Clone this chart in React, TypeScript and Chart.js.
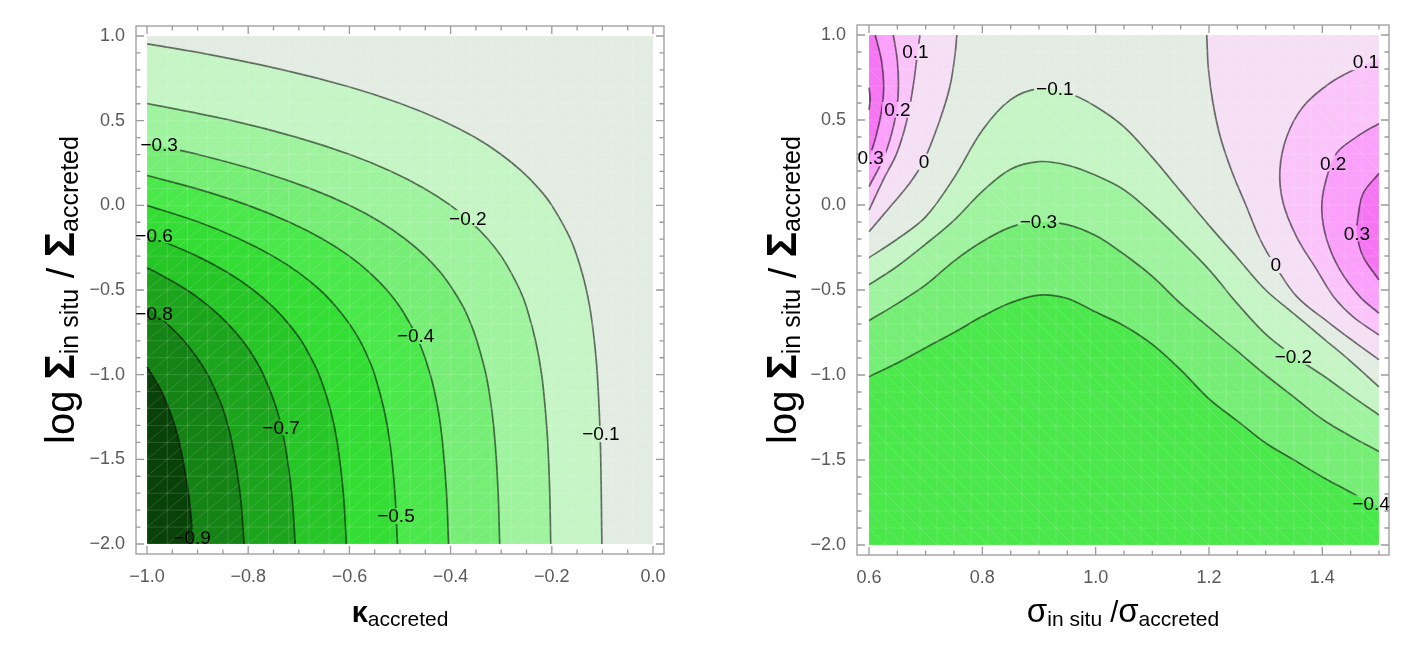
import { useEffect, useRef } from 'react'
import { Chart, registerables } from 'chart.js'

Chart.register(...registerables)

type Pt = [number, number]
type Label = [number, number, number] // level, x, y
type Run = { t: string; size: number; bold?: boolean; sub?: boolean }

// ---------- left panel: kappa_accreted vs log Sigma_insitu/Sigma_accreted ----------
const kappaLevels = [-0.1, -0.2, -0.3, -0.4, -0.5, -0.6, -0.7, -0.8, -0.9]

const kappaLine1: Pt[] = [[-1, 0.954], [-0.894, 0.9], [-0.731, 0.8], [-0.601, 0.7], [-0.498, 0.6], [-0.416, 0.5], [-0.351, 0.4], [-0.3, 0.3], [-0.259, 0.2], [-0.226, 0.1], [-0.2, 0.0], [-0.163, -0.2], [-0.14, -0.4], [-0.125, -0.6], [-0.116, -0.8], [-0.11, -1.0], [-0.104, -1.4], [-0.101, -2.0]]
const kappaLine2: Pt[] = [[-1, 0.602], [-0.832, 0.5], [-0.702, 0.4], [-0.599, 0.3], [-0.517, 0.2], [-0.452, 0.1], [-0.4, 0.0], [-0.359, -0.1], [-0.326, -0.2], [-0.3, -0.3], [-0.28, -0.4], [-0.263, -0.5], [-0.25, -0.6], [-0.232, -0.8], [-0.22, -1.0], [-0.213, -1.2], [-0.208, -1.4], [-0.204, -1.7], [-0.202, -2.0]]
const kappaLine3: Pt[] = [[-1, 0.368], [-0.899, 0.3], [-0.776, 0.2], [-0.678, 0.1], [-0.6, 0.0], [-0.538, -0.1], [-0.489, -0.2], [-0.45, -0.3], [-0.419, -0.4], [-0.395, -0.5], [-0.375, -0.6], [-0.36, -0.7], [-0.348, -0.8], [-0.33, -1.0], [-0.319, -1.2], [-0.312, -1.4], [-0.306, -1.7], [-0.303, -2.0]]
const kappaLine4: Pt[] = [[-1, 0.176], [-0.904, 0.1], [-0.8, 0.0], [-0.718, -0.1], [-0.652, -0.2], [-0.6, -0.3], [-0.559, -0.4], [-0.526, -0.5], [-0.5, -0.6], [-0.48, -0.7], [-0.463, -0.8], [-0.44, -1.0], [-0.425, -1.2], [-0.416, -1.4], [-0.408, -1.7], [-0.404, -2.0]]
const kappaLine5: Pt[] = [[-1, 0.0], [-0.897, -0.1], [-0.816, -0.2], [-0.751, -0.3], [-0.699, -0.4], [-0.658, -0.5], [-0.626, -0.6], [-0.6, -0.7], [-0.579, -0.8], [-0.563, -0.9], [-0.55, -1.0], [-0.532, -1.2], [-0.52, -1.4], [-0.51, -1.7], [-0.505, -2.0]]
const kappaLine6: Pt[] = [[-1, -0.176], [-0.979, -0.2], [-0.901, -0.3], [-0.839, -0.4], [-0.79, -0.5], [-0.751, -0.6], [-0.72, -0.7], [-0.695, -0.8], [-0.676, -0.9], [-0.66, -1.0], [-0.638, -1.2], [-0.624, -1.4], [-0.612, -1.7], [-0.606, -2.0]]
const kappaLine7: Pt[] = [[-1, -0.368], [-0.979, -0.4], [-0.921, -0.5], [-0.876, -0.6], [-0.84, -0.7], [-0.811, -0.8], [-0.788, -0.9], [-0.77, -1.0], [-0.744, -1.2], [-0.728, -1.4], [-0.714, -1.7], [-0.707, -2.0]]
const kappaLine8: Pt[] = [[-1, -0.602], [-0.96, -0.7], [-0.927, -0.8], [-0.901, -0.9], [-0.88, -1.0], [-0.864, -1.1], [-0.85, -1.2], [-0.832, -1.4], [-0.816, -1.7], [-0.808, -2.0]]
const kappaLine9: Pt[] = [[-1, -0.954], [-0.99, -1.0], [-0.971, -1.1], [-0.957, -1.2], [-0.945, -1.3], [-0.936, -1.4], [-0.923, -1.6], [-0.914, -1.8], [-0.909, -2.0]]
const kappaLines = [kappaLine1, kappaLine2, kappaLine3, kappaLine4, kappaLine5, kappaLine6, kappaLine7, kappaLine8, kappaLine9]

const kappaLabels: Label[] = [[-0.1, -0.103, -1.35], [-0.2, -0.366, -0.077], [-0.3, -0.976, 0.356], [-0.4, -0.469, -0.771], [-0.5, -0.508, -1.835], [-0.6, -0.986, -0.178], [-0.7, -0.735, -1.312], [-0.8, -0.986, -0.638], [-0.9, -0.911, -1.962]]
const kappaTicks = [-1, -0.8, -0.6, -0.4, -0.2, 0]
const logSigmaTicks = [-2, -1.5, -1, -0.5, 0, 0.5, 1]

// ---------- right panel: sigma_insitu/sigma_accreted vs log Sigma ratio ----------
const sigmaTicks = [0.6, 0.8, 1.0, 1.2, 1.4]

const sigmaLowLevels = [-0.1, -0.2, -0.3, -0.4]
const sigmaLow1: Pt[] = [[0.6, -0.31], [0.65, -0.2], [0.7, -0.07], [0.75, 0.16], [0.8, 0.44], [0.85, 0.62], [0.9, 0.685], [0.95, 0.66], [1.0, 0.58], [1.05, 0.46], [1.1, 0.28], [1.15, 0.08], [1.2, -0.12], [1.25, -0.31], [1.3, -0.5], [1.35, -0.64], [1.4, -0.78], [1.45, -0.92], [1.5, -1.07]]
const sigmaLow2: Pt[] = [[0.6, -0.47], [0.65, -0.36], [0.7, -0.23], [0.75, -0.09], [0.8, 0.08], [0.85, 0.21], [0.9, 0.255], [0.95, 0.235], [1.0, 0.175], [1.05, 0.09], [1.1, -0.05], [1.15, -0.21], [1.2, -0.38], [1.25, -0.58], [1.3, -0.76], [1.35, -0.89], [1.4, -1.0], [1.45, -1.12], [1.5, -1.235]]
const sigmaLow3: Pt[] = [[0.6, -0.68], [0.65, -0.58], [0.7, -0.47], [0.75, -0.33], [0.8, -0.215], [0.85, -0.13], [0.9, -0.098], [0.95, -0.115], [1.0, -0.18], [1.05, -0.29], [1.1, -0.42], [1.15, -0.58], [1.2, -0.72], [1.25, -0.86], [1.3, -1.0], [1.35, -1.13], [1.4, -1.26], [1.45, -1.36], [1.5, -1.45]]
const sigmaLow4: Pt[] = [[0.6, -1.01], [0.65, -0.93], [0.7, -0.84], [0.75, -0.75], [0.8, -0.655], [0.85, -0.575], [0.9, -0.53], [0.95, -0.55], [1.0, -0.63], [1.05, -0.71], [1.1, -0.82], [1.15, -0.97], [1.2, -1.14], [1.25, -1.27], [1.3, -1.4], [1.35, -1.5], [1.4, -1.6], [1.45, -1.69], [1.5, -1.78]]
const sigmaLowLines = [sigmaLow1, sigmaLow2, sigmaLow3, sigmaLow4]

// positive contours hugging the left edge (ordered by y)
const sigmaLeftLevels = [0, 0.1, 0.2, 0.3, 0.4]
const sigmaLeft0: Pt[] = [[0.6, -0.157], [0.64, 0.0], [0.67, 0.12], [0.696, 0.255], [0.725, 0.5], [0.743, 0.7], [0.752, 0.89], [0.755, 1.0]]
const sigmaLeft1: Pt[] = [[0.6, -0.03], [0.625, 0.147], [0.649, 0.304], [0.667, 0.5], [0.678, 0.7], [0.684, 0.85], [0.69, 1.0]]
const sigmaLeft2: Pt[] = [[0.6, 0.108], [0.625, 0.27], [0.64, 0.42], [0.649, 0.563], [0.652, 0.7], [0.65, 0.85], [0.643, 1.0]]
const sigmaLeft3: Pt[] = [[0.6, 0.27], [0.612, 0.4], [0.622, 0.55], [0.626, 0.7], [0.622, 0.85], [0.611, 1.0]]
const sigmaLeft4: Pt[] = [[0.6, 0.56], [0.6015, 0.6], [0.602, 0.625], [0.6015, 0.65], [0.6, 0.69]]
const sigmaLeftLines = [sigmaLeft0, sigmaLeft1, sigmaLeft2, sigmaLeft3, sigmaLeft4]

// positive contours hugging the right edge (ordered by y)
const sigmaRightLevels = [0, 0.1, 0.2, 0.3]
const sigmaRight0: Pt[] = [[1.5, -0.91], [1.46, -0.814], [1.413, -0.696], [1.355, -0.539], [1.316, -0.353], [1.29, -0.2], [1.265, 0.0], [1.24, 0.2], [1.22, 0.4], [1.207, 0.6], [1.199, 0.8], [1.196, 1.0]]
const sigmaRight1: Pt[] = [[1.5, -0.765], [1.455, -0.66], [1.42, -0.54], [1.39, -0.38], [1.355, -0.19], [1.331, 0.01], [1.325, 0.2], [1.337, 0.4], [1.366, 0.578], [1.413, 0.716], [1.461, 0.804], [1.5, 0.863]]
const sigmaRight2: Pt[] = [[1.5, -0.637], [1.466, -0.539], [1.431, -0.382], [1.408, -0.206], [1.399, -0.03], [1.405, 0.128], [1.425, 0.304], [1.461, 0.402], [1.5, 0.48]]
const sigmaRight3: Pt[] = [[1.5, -0.441], [1.472, -0.304], [1.461, -0.167], [1.463, -0.069], [1.472, 0.069], [1.5, 0.186]]
const sigmaRightLines = [sigmaRight0, sigmaRight1, sigmaRight2, sigmaRight3]

const sigmaLabels: Label[] = [[0.1, 0.682, 0.902], [0.2, 0.65, 0.561], [0.3, 0.603, 0.275], [0, 0.697, 0.255], [-0.1, 0.928, 0.686], [-0.3, 0.899, -0.098], [0.1, 1.477, 0.84], [0.2, 1.419, 0.245], [0.3, 1.461, -0.167], [0, 1.318, -0.353], [-0.2, 1.349, -0.892], [-0.4, 1.486, -1.755]]

// ---------- styling ----------
const FONT = "'Liberation Sans', Arial, sans-serif"
const LINE = 'rgba(0,0,0,0.55)'
const FRAME = '#9a9a9a'
const TICK_TEXT = '#5a5a5a'
const NEUTRAL = '#e3ece3'
// fill of the region below / above a level
const belowColor: Record<string, string> = {
  '-0.1': '#c5f5c5', '-0.2': '#9ff39f', '-0.3': '#76ee76', '-0.4': '#4ae84a', '-0.5': '#34dd34',
  '-0.6': '#27c627', '-0.7': '#1da41d', '-0.8': '#148214', '-0.9': '#094209',
}
const aboveColor: Record<string, string> = {
  '0': '#f4dff4', '0.1': '#fac4fa', '0.2': '#fa9ffa', '0.3': '#f575f3', '0.4': '#ec52ec',
}

const fmtLevel = (v: number) => (Math.abs(v) < 1e-9 ? '0' : (v < 0 ? '\u2212' : '') + Math.abs(v).toFixed(1))
const fmtTick = (v: number) => (v < -1e-9 ? '\u2212' : '') + Math.abs(v).toFixed(1)
const pts = (p: Pt[]) => p.map(([x, y]) => ({ x, y }))

function area(p: Pt[], color: string, fill: any, indexAxis: 'x' | 'y' = 'x') {
  return { data: pts(p), backgroundColor: color, borderColor: 'transparent', borderWidth: 0, fill, pointRadius: 0, tension: 0.35, indexAxis }
}
function contour(p: Pt[], indexAxis: 'x' | 'y' = 'x') {
  return { data: pts(p), borderColor: LINE, borderWidth: 1.7, fill: false, pointRadius: 0, tension: 0.35, indexAxis, contour: true }
}

interface PanelCfg {
  xr: [number, number]
  yr: [number, number]
  xMinor: number
  yMinor: number
  meshX: number
  meshY: number
  slash: boolean
  labels: Label[]
  xTitle: Run[]
  yTitle: Run[]
  yTitleGap: number
}

const LABEL_FONT = `19px ${FONT}`

function drawRuns(ctx: CanvasRenderingContext2D, runs: Run[], cx: number, base: number) {
  const fontOf = (r: Run) => `${r.bold ? 'bold ' : ''}${r.size}px ${FONT}`
  const widths = runs.map((r) => {
    ctx.font = fontOf(r)
    return ctx.measureText(r.t).width
  })
  let x = cx - widths.reduce((a, b) => a + b, 0) / 2
  runs.forEach((r, i) => {
    ctx.font = fontOf(r)
    ctx.fillText(r.t, x, base + (r.sub ? 4 : 0))
    x += widths[i]
  })
}

function panelPlugin(cfg: PanelCfg) {
  const boxes = (chart: any) => {
    const { x: xs, y: ys } = chart.scales
    const ctx = chart.ctx as CanvasRenderingContext2D
    ctx.save()
    ctx.font = LABEL_FONT
    const out = cfg.labels.map(([v, x, y]) => {
      const w = ctx.measureText(fmtLevel(v)).width + 4
      return [xs.getPixelForValue(x) - w / 2, ys.getPixelForValue(y) - 8, w, 16]
    })
    ctx.restore()
    return out
  }
  return {
    id: 'panel',
    beforeDatasetDraw(chart: any, args: any) {
      if (!chart.data.datasets[args.index].contour) return
      const ctx = chart.ctx as CanvasRenderingContext2D
      const a = chart.chartArea
      ctx.save()
      ctx.beginPath()
      ctx.rect(a.left, a.top, a.width, a.height)
      boxes(chart).forEach(([x, y, w, h]) => ctx.rect(x, y, w, h))
      ctx.clip('evenodd')
    },
    afterDatasetDraw(chart: any, args: any) {
      if (chart.data.datasets[args.index].contour) chart.ctx.restore()
    },
    afterDatasetsDraw(chart: any) {
      const ctx = chart.ctx as CanvasRenderingContext2D
      const a = chart.chartArea
      const { x: xs, y: ys } = chart.scales
      const L = xs.getPixelForValue(cfg.xr[0])
      const R = xs.getPixelForValue(cfg.xr[1])
      const T = ys.getPixelForValue(cfg.yr[1])
      const B = ys.getPixelForValue(cfg.yr[0])

      // faint triangulated mesh over the filled region
      ctx.save()
      ctx.beginPath()
      ctx.rect(L, T, R - L, B - T)
      ctx.clip()
      ctx.strokeStyle = 'rgba(255,255,255,0.14)'
      ctx.lineWidth = 1
      const cw = (cfg.meshX * (R - L)) / (cfg.xr[1] - cfg.xr[0])
      const ch = (cfg.meshY * (B - T)) / (cfg.yr[1] - cfg.yr[0])
      ctx.beginPath()
      for (let px = L; px <= R + 1; px += cw) {
        ctx.moveTo(px, T)
        ctx.lineTo(px, B)
        for (let py = B; py >= T - 1; py -= ch) {
          if (cfg.slash) {
            ctx.moveTo(px, py)
            ctx.lineTo(px + cw, py - ch)
          } else {
            ctx.moveTo(px, py - ch)
            ctx.lineTo(px + cw, py)
          }
        }
      }
      for (let py = B; py >= T - 1; py -= ch) {
        ctx.moveTo(L, py)
        ctx.lineTo(R, py)
      }
      ctx.stroke()
      ctx.restore()

      // frame with inward ticks on all four sides
      ctx.save()
      ctx.strokeStyle = FRAME
      ctx.lineWidth = 1.3
      ctx.strokeRect(a.left, a.top, a.width, a.height)
      ctx.beginPath()
      const xMajor = xs.ticks.map((t: any) => t.value)
      const yMajor = ys.ticks.map((t: any) => t.value)
      const nX = Math.round((cfg.xr[1] - cfg.xr[0]) / cfg.xMinor)
      for (let k = 0; k <= nX; k++) {
        const v = cfg.xr[0] + k * cfg.xMinor
        const len = xMajor.some((m: number) => Math.abs(m - v) < 1e-6) ? 8 : 4.5
        const px = xs.getPixelForValue(v)
        ctx.moveTo(px, a.bottom)
        ctx.lineTo(px, a.bottom - len)
        ctx.moveTo(px, a.top)
        ctx.lineTo(px, a.top + len)
      }
      const nY = Math.round((cfg.yr[1] - cfg.yr[0]) / cfg.yMinor)
      for (let k = 0; k <= nY; k++) {
        const v = cfg.yr[0] + k * cfg.yMinor
        const len = yMajor.some((m: number) => Math.abs(m - v) < 1e-6) ? 8 : 4.5
        const py = ys.getPixelForValue(v)
        ctx.moveTo(a.left, py)
        ctx.lineTo(a.left + len, py)
        ctx.moveTo(a.right, py)
        ctx.lineTo(a.right - len, py)
      }
      ctx.stroke()
      ctx.restore()

      // contour labels
      ctx.save()
      ctx.fillStyle = '#000'
      ctx.font = LABEL_FONT
      ctx.textAlign = 'center'
      ctx.textBaseline = 'middle'
      cfg.labels.forEach(([v, x, y]) => ctx.fillText(fmtLevel(v), xs.getPixelForValue(x), ys.getPixelForValue(y) + 1))
      ctx.restore()
    },
    afterDraw(chart: any) {
      const ctx = chart.ctx as CanvasRenderingContext2D
      const a = chart.chartArea
      ctx.save()
      ctx.fillStyle = '#000'
      ctx.textAlign = 'left'
      ctx.textBaseline = 'alphabetic'
      drawRuns(ctx, cfg.xTitle, (a.left + a.right) / 2, 622)
      ctx.translate(a.left - cfg.yTitleGap, (a.top + a.bottom) / 2)
      ctx.rotate(-Math.PI / 2)
      drawRuns(ctx, cfg.yTitle, 0, 0)
      ctx.restore()
    },
  }
}

interface PanelProps {
  datasets: any[]
  xMin: number
  xMax: number
  yMin: number
  yMax: number
  xTicks: number[]
  yTicks: number[]
  pad: { top: number; right: number; left: number; bottom: number }
  yAxisWidth: number
  xAxisHeight: number
  cfg: PanelCfg
}

function ContourPanel({ datasets, xMin, xMax, yMin, yMax, xTicks, yTicks, pad, yAxisWidth, xAxisHeight, cfg }: PanelProps) {
  const canvasRef = useRef<HTMLCanvasElement>(null)

  useEffect(() => {
    if (!canvasRef.current) return
    const ordered = datasets.map((d, i) => ({ ...d, order: datasets.length - i }))
    const tickFont = { family: FONT, size: 18 }
    const chart = new Chart(canvasRef.current, {
      type: 'line',
      data: { datasets: ordered },
      options: {
        responsive: true,
        maintainAspectRatio: false,
        animation: false,
        layout: { padding: pad },
        plugins: { legend: { display: false }, tooltip: { enabled: false } },
        scales: {
          x: {
            type: 'linear',
            min: xMin,
            max: xMax,
            grid: { display: false, drawTicks: false },
            border: { display: false },
            afterBuildTicks: (s: any) => {
              s.ticks = xTicks.map((value) => ({ value }))
            },
            afterFit: (s: any) => {
              s.height = xAxisHeight
              s.paddingLeft = 0
              s.paddingRight = 0
            },
            ticks: { padding: 12, color: TICK_TEXT, font: tickFont, autoSkip: false, maxRotation: 0, callback: (v: any) => fmtTick(Number(v)) },
          },
          y: {
            type: 'linear',
            min: yMin,
            max: yMax,
            grid: { display: false, drawTicks: false },
            border: { display: false },
            afterBuildTicks: (s: any) => {
              s.ticks = yTicks.map((value) => ({ value }))
            },
            afterFit: (s: any) => {
              s.width = yAxisWidth
              s.paddingTop = 0
              s.paddingBottom = 0
            },
            ticks: { padding: 11, color: TICK_TEXT, font: tickFont, autoSkip: false, callback: (v: any) => fmtTick(Number(v)) },
          },
        },
      } as any,
      plugins: [panelPlugin(cfg) as any],
    })
    return () => chart.destroy()
  }, [])

  return <canvas ref={canvasRef}></canvas>
}

const yTitleRuns: Run[] = [
  { t: 'log ', size: 40 },
  { t: '\u03a3', size: 42, bold: true },
  { t: 'in situ', size: 25, sub: true },
  { t: ' / ', size: 38 },
  { t: '\u03a3', size: 42, bold: true },
  { t: 'accreted', size: 25, sub: true },
]

function KappaPanel() {
  const datasets = [
    area([[-1, 1], [0, 1]], NEUTRAL, { value: -2 }),
    ...kappaLines.map((p, i) => area(p, belowColor[String(kappaLevels[i])], { value: -2 })),
    ...kappaLines.map((p) => contour(p)),
  ]
  const cfg: PanelCfg = {
    xr: [-1, 0],
    yr: [-2, 1],
    xMinor: 0.05,
    yMinor: 0.1,
    meshX: 0.04,
    meshY: 0.1,
    slash: true,
    labels: kappaLabels,
    xTitle: [{ t: '\u03ba', size: 29, bold: true }, { t: 'accreted', size: 21, sub: true }],
    yTitle: yTitleRuns,
    yTitleGap: 62,
  }
  return (
    <ContourPanel
      datasets={datasets}
      xMin={-1 - 11 / 506}
      xMax={11 / 506}
      yMin={-2 - 10 / 169.33}
      yMax={1 + 10 / 169.33}
      xTicks={kappaTicks}
      yTicks={logSigmaTicks}
      pad={{ top: 26, right: 44, left: 0, bottom: 0 }}
      yAxisWidth={136}
      xAxisHeight={94}
      cfg={cfg}
    />
  )
}

function SigmaPanel() {
  const datasets = [
    area([[0.6, 1], [1.5, 1]], NEUTRAL, { value: -2 }),
    ...sigmaLowLines.map((p, i) => area(p, belowColor[String(sigmaLowLevels[i])], { value: -2 })),
    ...sigmaLeftLines.map((p, i) => area(p, aboveColor[String(sigmaLeftLevels[i])], { value: 0.6 }, 'y')),
    ...sigmaRightLines.map((p, i) => area(p, aboveColor[String(sigmaRightLevels[i])], { value: 1.5 }, 'y')),
    ...sigmaLowLines.map((p) => contour(p)),
    ...sigmaLeftLines.map((p) => contour(p, 'y')),
    ...sigmaRightLines.map((p) => contour(p, 'y')),
  ]
  const cfg: PanelCfg = {
    xr: [0.6, 1.5],
    yr: [-2, 1],
    xMinor: 0.05,
    yMinor: 0.1,
    meshX: 0.03,
    meshY: 0.1,
    slash: false,
    labels: sigmaLabels,
    xTitle: [{ t: '\u03c3', size: 33 }, { t: 'in situ', size: 21, sub: true }, { t: ' /', size: 29 }, { t: '\u03c3', size: 33 }, { t: 'accreted', size: 21, sub: true }],
    yTitle: yTitleRuns,
    yTitleGap: 61,
  }
  return (
    <ContourPanel
      datasets={datasets}
      xMin={0.6 - 12 / 566.67}
      xMax={1.5 + 10 / 566.67}
      yMin={-2 - 10 / 170}
      yMax={1 + 10 / 170}
      xTicks={sigmaTicks}
      yTicks={logSigmaTicks}
      pad={{ top: 25, right: 27, left: 0, bottom: 0 }}
      yAxisWidth={149}
      xAxisHeight={93}
      cfg={cfg}
    />
  )
}

export default function App() {
  return (
    <div style={{ position: 'fixed', left: 0, top: 0, width: 1416, height: 648, background: '#fff' }}>
      <div style={{ position: 'absolute', left: 0, top: 0, width: 708, height: 648 }}>
        <KappaPanel />
      </div>
      <div style={{ position: 'absolute', left: 708, top: 0, width: 708, height: 648 }}>
        <SigmaPanel />
      </div>
    </div>
  )
}
